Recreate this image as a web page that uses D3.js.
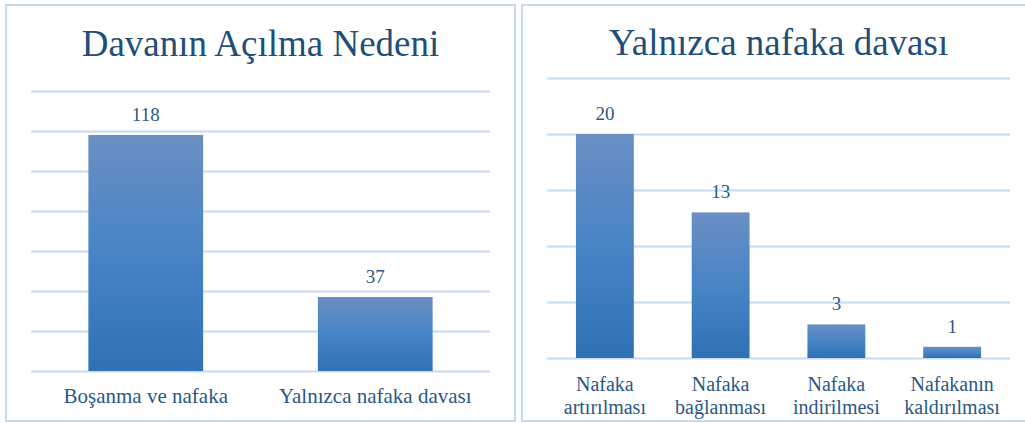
<!DOCTYPE html>
<html>
<head>
<meta charset="utf-8">
<script src="https://d3js.org/d3.v7.min.js"></script>
<style>
    body { margin: 0; background: #ffffff; }
    svg { display: block; }
</style>
</head>
<body>
<svg id="drawing_region"></svg>
<script>
// sol grafik
const leftTitle = "Davanın Açılma Nedeni";
const leftCategories = [["Boşanma ve nafaka"], ["Yalnızca nafaka davası"]];
const leftValues = [118, 37];
const leftTicks = [0, 20, 40, 60, 80, 100, 120, 140];

// sağ grafik
const rightTitle = "Yalnızca nafaka davası";
const rightCategories = [["Nafaka", "artırılması"], ["Nafaka", "bağlanması"], ["Nafaka", "indirilmesi"], ["Nafakanın", "kaldırılması"]];
const rightValues = [20, 13, 3, 1];
const rightTicks = [0, 5, 10, 15, 20, 25];

const FONT = "'Liberation Serif', 'DejaVu Serif', serif";

const svg = d3.select('#drawing_region')
    .attr('width', 1025)
    .attr('height', 423);

// gradyan dolgu
const grad = svg.append('defs').append('linearGradient')
    .attr('id', 'barGrad')
    .attr('x1', 0).attr('y1', 0).attr('x2', 0).attr('y2', 1);
grad.append('stop').attr('offset', '0%').attr('stop-color', '#6a8fc3');
grad.append('stop').attr('offset', '50%').attr('stop-color', '#4884c6');
grad.append('stop').attr('offset', '100%').attr('stop-color', '#2e71b4');

class BarChart {

    constructor(config, categories, values, ticks, title) {
        this.config = config;
        this.data = categories.map((c, i) => ({ label: c, value: values[i] }));
        this.ticks = ticks;
        this.title = title;
        this.init();
    }

    init() {
        let self = this;
        const c = self.config;

        self.g = svg.append('g');

        // çerçeve
        self.g.append('rect')
            .attr('x', c.box.x).attr('y', c.box.y)
            .attr('width', c.box.w).attr('height', c.box.h)
            .attr('fill', 'none')
            .attr('stroke', '#c6daf0')
            .attr('stroke-width', 2);

        self.xscale = d3.scaleBand()
            .domain(self.data.map((d, i) => i))
            .range([c.left, c.right])
            .paddingInner(0.5)
            .paddingOuter(0.25);

        self.yscale = d3.scaleLinear()
            .domain([0, d3.max(self.ticks)])
            .range([c.bottom, c.top]);

        self.yaxis = d3.axisLeft(self.yscale)
            .tickValues(self.ticks)
            .tickSize(-(c.right - c.left))
            .tickFormat('');
    }

    render() {
        let self = this;
        const c = self.config;

        // başlık
        self.g.append('text')
            .attr('x', (c.left + c.right) / 2)
            .attr('y', c.titleY)
            .attr('text-anchor', 'middle')
            .style('font-family', FONT)
            .style('font-size', c.titleSize + 'px')
            .attr('fill', '#1f4e79')
            .text(self.title);

        // ızgara
        const grid = self.g.append('g')
            .attr('transform', `translate(${c.left}, 0)`)
            .call(self.yaxis);
        grid.select('.domain').remove();
        grid.selectAll('.tick line')
            .attr('stroke', '#c6daf0')
            .attr('stroke-width', 2);

        // çubuklar
        self.g.selectAll('rect.bar')
            .data(self.data)
            .enter()
            .append('rect')
            .attr('class', 'bar')
            .attr('x', (d, i) => self.xscale(i))
            .attr('y', d => self.yscale(d.value))
            .attr('width', self.xscale.bandwidth())
            .attr('height', d => self.yscale(0) - self.yscale(d.value))
            .attr('fill', 'url(#barGrad)');

        // değer etiketleri
        self.g.selectAll('text.value')
            .data(self.data)
            .enter()
            .append('text')
            .attr('class', 'value')
            .attr('x', (d, i) => self.xscale(i) + self.xscale.bandwidth() / 2)
            .attr('y', d => self.yscale(d.value) - 14)
            .attr('text-anchor', 'middle')
            .style('font-family', FONT)
            .style('font-size', '19px')
            .attr('fill', '#2a5886')
            .text(d => d.value);

        // kategori etiketleri
        const labels = self.g.selectAll('text.cat')
            .data(self.data)
            .enter()
            .append('text')
            .attr('class', 'cat')
            .attr('text-anchor', 'middle')
            .style('font-family', FONT)
            .style('font-size', c.labelSize + 'px')
            .attr('fill', '#2a5886');

        labels.selectAll('tspan')
            .data((d, i) => d.label.map(t => ({ t: t, i: i })))
            .enter()
            .append('tspan')
            .attr('x', d => self.xscale(d.i) + self.xscale.bandwidth() / 2)
            .attr('y', (d, j) => c.labelY + j * c.lineGap)
            .text(d => d.t);
    }
}

const leftChart = new BarChart({
    box: { x: 6, y: 5, w: 509, h: 416 },
    left: 31, right: 490, top: 91, bottom: 371,
    titleY: 56, titleSize: 37, labelY: 403, labelSize: 21, lineGap: 21
}, leftCategories, leftValues, leftTicks, leftTitle);
leftChart.render();

const rightChart = new BarChart({
    box: { x: 522, y: 5, w: 504, h: 416 },
    left: 547, right: 1010, top: 78, bottom: 358,
    titleY: 55, titleSize: 37, labelY: 391, labelSize: 20, lineGap: 23
}, rightCategories, rightValues, rightTicks, rightTitle);
rightChart.render();
</script>
</body>
</html>
